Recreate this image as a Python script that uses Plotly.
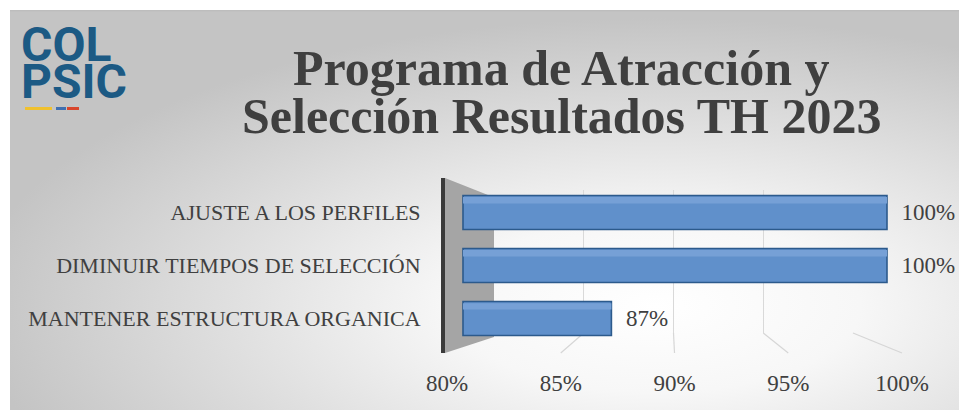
import base64
import plotly.graph_objects as go

# ---------------- data ----------------
categories = ["AJUSTE A LOS PERFILES", "DIMINUIR TIEMPOS DE SELECCIÓN", "MANTENER ESTRUCTURA ORGANICA"]
values = [100, 100, 87]
tick_values = [80, 85, 90, 95, 100]
tick_labels = ["80%", "85%", "90%", "95%", "100%"]
title_lines = ["Programa de Atracción y", "Selección Resultados TH 2023"]
logo_lines = ["COL", "PSIC"]

W, H = 959, 410
AXIS_MIN, AXIS_MAX = 80, 100


def fx(p):
    return p / W


def fy(p):
    return 1 - p / H


# pixel geometry of the pseudo-3D chart
BAR_L, BAR_R = 463, 887          # front plane: 80% -> 463, 100% -> 887
PLOT_L, PLOT_R = 445, 902
BACK_L, BACK_R = 494, 853        # back wall
FLOOR_L, FLOOR_R = 447, 902      # floor / tick labels
scale = (BAR_R - BAR_L) / (AXIS_MAX - AXIS_MIN)
x2_range = [AXIS_MIN - (BAR_L - PLOT_L) / scale, AXIS_MAX + (PLOT_R - BAR_R) / scale]


def back_px(v):
    return BACK_L + (v - AXIS_MIN) * (BACK_R - BACK_L) / (AXIS_MAX - AXIS_MIN)


def floor_px(v):
    return FLOOR_L + (v - AXIS_MIN) * (FLOOR_R - FLOOR_L) / (AXIS_MAX - AXIS_MIN)


TXT = "#404040"
SERIF = "Liberation Serif, DejaVu Serif, serif"

# ---------------- background gradient ----------------
BG_W, BG_H = 959 - 10, 410 - 10
svg = f'''<svg xmlns="http://www.w3.org/2000/svg" width="{BG_W}" height="{BG_H}" viewBox="0 0 {BG_W} {BG_H}" preserveAspectRatio="none">
<defs><radialGradient id="g" cx="0.68" cy="0.74" r="0.72">
<stop offset="0" stop-color="#ffffff"/><stop offset="0.3" stop-color="#f7f7f7"/>
<stop offset="1" stop-color="#c4c4c4"/></radialGradient></defs>
<rect x="0" y="0" width="{BG_W}" height="{BG_H}" fill="url(#g)"/>
<line x1="0" y1="0.75" x2="{BG_W}" y2="0.75" stroke="#bdbdbd" stroke-width="1.5"/>
</svg>'''
svg_uri = "data:image/svg+xml;base64," + base64.b64encode(svg.encode()).decode()

fig = go.Figure()

# back-wall grid subplot (drawn first so it stays behind the bars)
fig.add_trace(go.Scatter(x=[AXIS_MIN, AXIS_MAX], y=[0, 0], mode="none",
                         xaxis="x", yaxis="y", hoverinfo="skip", showlegend=False))

BAR_W = 0.64
# bars
fig.add_trace(go.Bar(
    y=categories,
    x=[v - AXIS_MIN for v in values],
    base=AXIS_MIN,
    orientation="h",
    xaxis="x2", yaxis="y2",
    width=BAR_W,
    marker=dict(color="#6090cb", line=dict(color="#2c5a8c", width=1.6)),
    text=[f"\u00a0\u00a0{v}%" for v in values],
    textposition="outside",
    textfont=dict(family=SERIF, size=23, color=TXT),
    constraintext="none",
    cliponaxis=False,
    customdata=values,
    hovertemplate="%{y}: %{customdata}%<extra></extra>",
    showlegend=False,
))
# lighter top face of the 3-D bars
fig.add_trace(go.Bar(
    y=categories,
    x=[v - AXIS_MIN for v in values],
    base=AXIS_MIN,
    orientation="h",
    xaxis="x2", yaxis="y2",
    width=0.12,
    offset=-BAR_W / 2 + 0.03,
    marker=dict(color="#76a0d6", line=dict(width=0)),
    hoverinfo="skip",
    showlegend=False,
))

# floor tick-label axis
fig.add_trace(go.Scatter(x=[AXIS_MIN, AXIS_MAX], y=[0, 0], mode="none",
                         xaxis="x3", yaxis="y3", hoverinfo="skip", showlegend=False))

shapes = []
# gray side wall
shapes.append(dict(type="path", xref="paper", yref="paper", layer="below",
                   path=(f"M {fx(445)},{fy(178)} L {fx(488)},{fy(195)} L {fx(494)},{fy(195)} "
                         f"L {fx(494)},{fy(337)} L {fx(445)},{fy(353)} Z"),
                   fillcolor="#a5a5a5", line=dict(width=0)))
# slanted parts of the gridlines (back wall -> floor)
for t in tick_values[1:]:
    shapes.append(dict(type="line", xref="paper", yref="paper", layer="below",
                       x0=fx(back_px(t)), y0=fy(333), x1=fx(floor_px(t)), y1=fy(353),
                       line=dict(color="#d6d6d6", width=1.2)))
# logo stripes
for (a, b, c) in [(25, 52, "#f0c12e"), (56, 66, "#3f6fb0"), (67, 79, "#d8462c")]:
    shapes.append(dict(type="rect", xref="paper", yref="paper", layer="above",
                       x0=fx(a), x1=fx(b), y0=fy(110), y1=fy(107),
                       fillcolor=c, line=dict(width=0)))

annotations = []
for line, yc in zip(title_lines, [68, 116]):
    annotations.append(dict(text=line, xref="paper", yref="paper", x=fx(561), y=fy(yc),
                            xanchor="center", yanchor="middle", showarrow=False, borderpad=0,
                            font=dict(family=SERIF, size=50, color="#3f3f3f", weight="bold")))
for line, yc in zip(logo_lines, [45, 82]):
    annotations.append(dict(text=line, xref="paper", yref="paper", x=fx(20), y=fy(yc),
                            xanchor="left", yanchor="middle", showarrow=False, borderpad=0,
                            font=dict(family="Liberation Sans Narrow, Roboto, Arial, sans-serif",
                                      size=48, color="#1c5a84", weight="bold")))

fig.update_layout(
    width=W, height=H,
    margin=dict(l=0, r=0, t=0, b=0, pad=0, autoexpand=False),
    paper_bgcolor="white",
    plot_bgcolor="rgba(0,0,0,0)",
    barmode="overlay",
    images=[dict(source=svg_uri, xref="paper", yref="paper", x=fx(10), y=fy(10),
                 sizex=BG_W / W, sizey=BG_H / H, sizing="stretch", layer="below",
                 xanchor="left", yanchor="top")],
    shapes=shapes,
    annotations=annotations,
    xaxis=dict(domain=[fx(BACK_L), fx(BACK_R)], range=[AXIS_MIN, AXIS_MAX], anchor="y",
               tickvals=tick_values[1:], showgrid=True, gridcolor="#d9d9d9", gridwidth=1.2,
               showticklabels=False, zeroline=False, showline=False, ticks="", fixedrange=True,
               automargin=False),
    yaxis=dict(domain=[fy(333), fy(190)], range=[0, 1], anchor="x", visible=False, fixedrange=True,
               automargin=False),
    xaxis2=dict(domain=[fx(PLOT_L), fx(PLOT_R)], range=x2_range, anchor="y2", visible=False,
                fixedrange=True, automargin=False),
    yaxis2=dict(domain=[fy(353), fy(178)], anchor="x2", type="category",
                categoryorder="array", categoryarray=categories,
                range=[len(categories) - 1 + 0.65, -0.65],
                showline=True, linecolor="#3a3a3a", linewidth=4, showgrid=False, zeroline=False,
                ticks="", ticklabelstandoff=16, automargin=False,
                tickfont=dict(family=SERIF, size=22, color=TXT), fixedrange=True),
    xaxis3=dict(domain=[fx(FLOOR_L), fx(FLOOR_R)], range=[AXIS_MIN, AXIS_MAX], anchor="y3",
                tickvals=tick_values, ticktext=tick_labels, showgrid=False, zeroline=False,
                showline=False, ticks="", tickfont=dict(family=SERIF, size=23, color=TXT),
                fixedrange=True, automargin=False),
    yaxis3=dict(domain=[fy(367), fy(366)], anchor="x3", visible=False, fixedrange=True,
                automargin=False),
)

# remove the browser's default page margin so the 959x410 figure fills the window exactly
fig.write_html("out.html",
               config={"displayModeBar": False},
               post_script="document.body.style.margin='0';document.body.style.overflow='hidden';")
